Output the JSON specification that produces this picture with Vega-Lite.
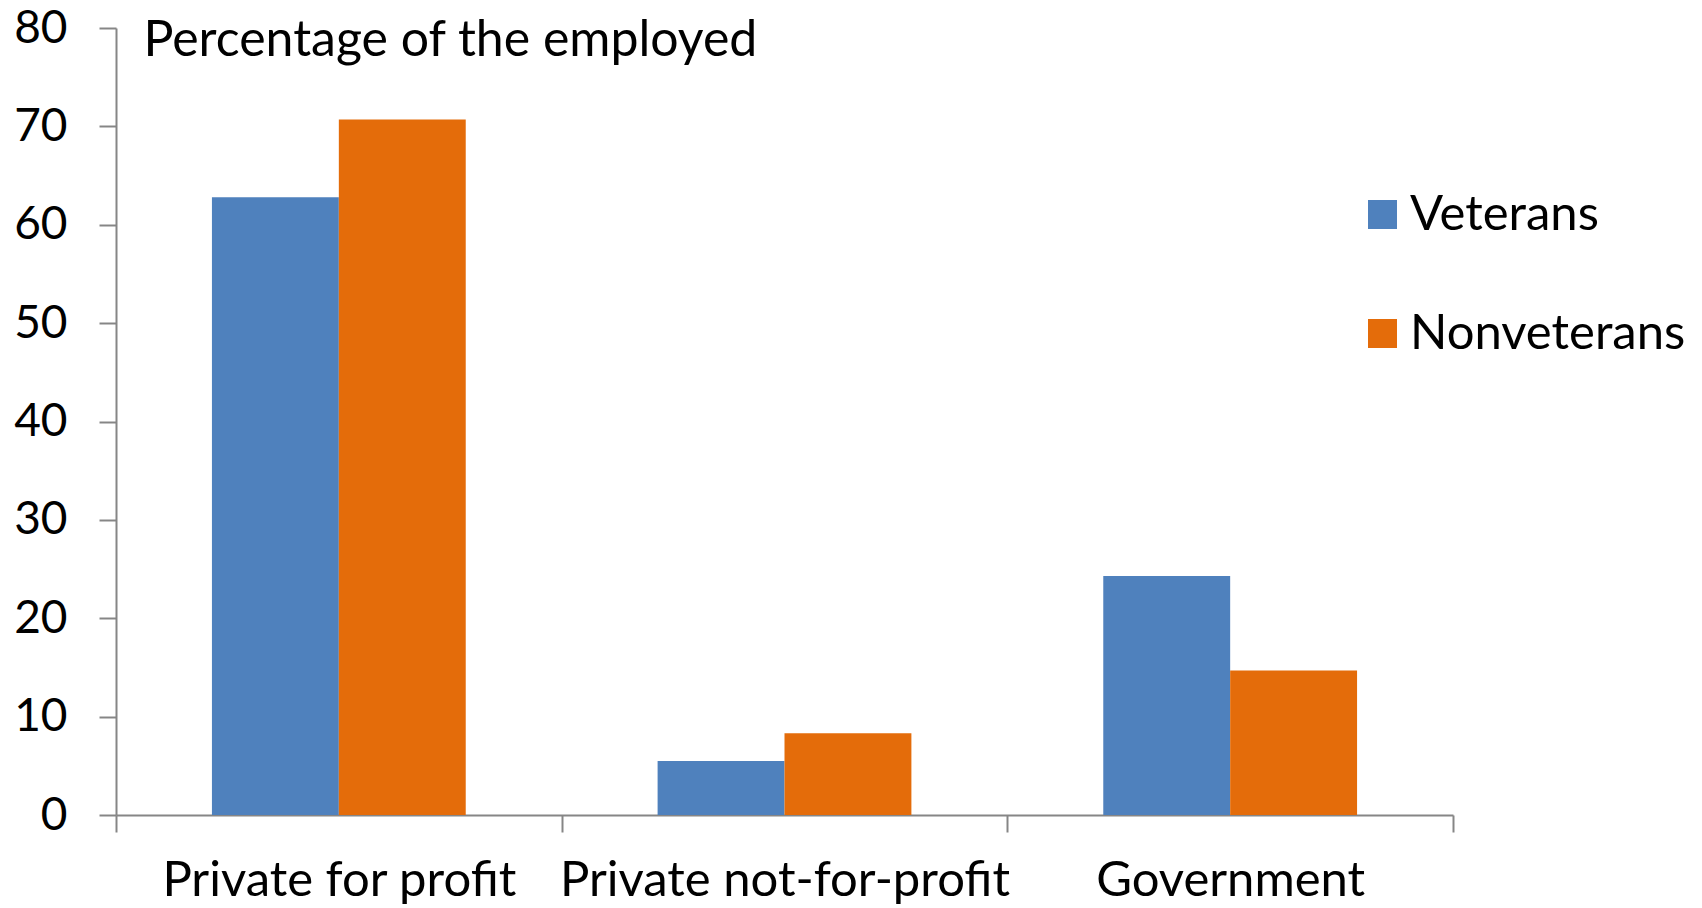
{
  "$schema": "https://vega.github.io/schema/vega-lite/v6.json",
  "autosize": {"type": "none"},
  "padding": {"left": 116, "top": 28, "right": 249, "bottom": 93},
  "width": 1337,
  "height": 787,
  "background": "white",
  "config": {
    "view": {"stroke": null},
    "font": "Lato",
    "axis": {"domainColor": "#868686", "tickColor": "#868686", "domainWidth": 2, "tickWidth": 2, "labelColor": "black", "labelFont": "Lato", "grid": false}
  },
  "data": {"values": [
    {"sector": "Private for profit", "group": "Veterans", "pct": 62.8},
    {"sector": "Private for profit", "group": "Nonveterans", "pct": 70.7},
    {"sector": "Private not-for-profit", "group": "Veterans", "pct": 5.5},
    {"sector": "Private not-for-profit", "group": "Nonveterans", "pct": 8.3},
    {"sector": "Government", "group": "Veterans", "pct": 24.3},
    {"sector": "Government", "group": "Nonveterans", "pct": 14.7}
  ]},
  "mark": {"type": "bar"},
  "encoding": {
    "x": {"field": "sector", "type": "nominal", "sort": null,
      "scale": {"paddingInner": 0, "paddingOuter": 0},
      "axis": {"title": null, "labelAngle": 0, "tickBand": "extent", "tickSize": 17, "labelPadding": 24, "labelFontSize": 49, "labelLimit": 0}},
    "xOffset": {"field": "group", "type": "nominal", "sort": ["Veterans", "Nonveterans"],
      "scale": {"paddingInner": 0, "paddingOuter": 0.756}},
    "y": {"field": "pct", "type": "quantitative",
      "scale": {"domain": [0, 80], "nice": false},
      "axis": {"values": [0, 10, 20, 30, 40, 50, 60, 70, 80], "tickSize": 17, "labelPadding": 32, "labelFontSize": 46,
        "title": "Percentage of the employed", "titleAngle": 0, "titleAlign": "left", "titleBaseline": "middle",
        "titleX": 27, "titleY": 12, "titleFont": "Lato", "titleFontSize": 50, "titleFontWeight": "normal", "titleColor": "black", "titleLimit": 0}},
    "color": {"field": "group", "type": "nominal",
      "scale": {"domain": ["Veterans", "Nonveterans"], "range": ["#4F81BD", "#E46C0A"]},
      "legend": {"title": null, "orient": "none", "legendX": 1242, "legendY": 162, "padding": 0,
        "symbolType": "square", "symbolSize": 841, "symbolStrokeWidth": 0, "labelFont": "Lato", "labelFontSize": 49, "labelColor": "black", "labelOffset": 3, "rowPadding": 69, "labelLimit": 0}}
  }
}
